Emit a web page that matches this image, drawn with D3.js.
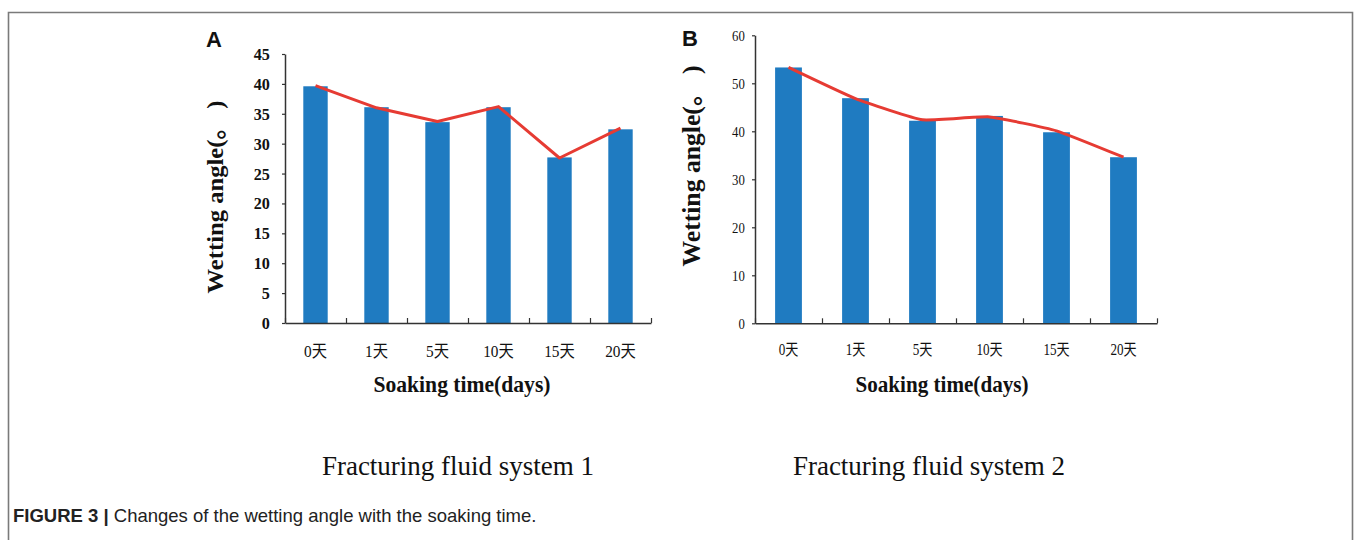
<!DOCTYPE html>
<html>
<head>
<meta charset="utf-8">
<script src="https://cdn.jsdelivr.net/npm/d3@7"></script>
<style>
  html, body { margin: 0; padding: 0; background: #fff; }
  svg { display: block; }
</style>
</head>
<body>
<svg id="fig" width="1354" height="540"></svg>
<script>
// Soaking time categories (shared by both panels)
const categories = ["0天", "1天", "5天", "10天", "15天", "20天"];

// Fracturing fluid system 1: wetting angle (°)
const barsSystem1 = [39.6, 36.1, 33.6, 36.1, 27.7, 32.4];
const lineSystem1 = [39.7, 36.0, 33.7, 36.2, 27.6, 32.6];
const ticksSystem1 = [0, 5, 10, 15, 20, 25, 30, 35, 40, 45];

// Fracturing fluid system 2: wetting angle (°)
const barsSystem2 = [53.3, 46.9, 42.2, 43.2, 39.8, 34.6];
const lineSystem2 = [53.3, 46.8, 42.4, 43.0, 40.1, 34.6];
const ticksSystem2 = [0, 10, 20, 30, 40, 50, 60];

const panelLetters = ["A", "B"];
const panelTitles = ["Fracturing fluid system 1", "Fracturing fluid system 2"];
const yTitle = "Wetting angle(。 )";
const xTitle = "Soaking time(days)";
const captionBold = "FIGURE 3 |";
const captionText = " Changes of the wetting angle with the soaking time.";

const BAR = "#1f7bc1";
const LINE = "#e63b33";
const AXIS = "#333";
const SERIF = "'Liberation Serif', 'Times New Roman', 'Noto Sans CJK SC', serif";
const SANS = "'Liberation Sans', Arial, Helvetica, sans-serif";

const svg = d3.select("#fig");

// outer frame (open at the bottom)
svg.append("path")
  .attr("d", "M8.5,545 V12.5 H1352.5 V545")
  .attr("fill", "none").attr("stroke", "#7a7a7a").attr("stroke-width", 1.6);

function drawPanel(p) {
  const g = svg.append("g");
  const y = d3.scaleLinear().domain([0, p.yMax]).range([p.bottom, p.top]);
  const x = d3.scaleBand().domain(categories).range([p.left, p.right])
    .paddingInner(0.6).paddingOuter(0.3);
  const edge = d3.scaleLinear().domain([0, categories.length]).range([p.left, p.right]);

  // bars
  g.append("g").selectAll("rect").data(p.bars).join("rect")
    .attr("x", (d, i) => x(categories[i]))
    .attr("y", d => y(d))
    .attr("width", x.bandwidth())
    .attr("height", d => y(0) - y(d))
    .attr("fill", BAR);

  // y axis
  const ya = g.append("g").attr("transform", `translate(${p.left},0)`)
    .call(d3.axisLeft(y).tickValues(p.ticks).tickSize(3).tickSizeOuter(0).tickPadding(p.yPad));
  ya.select(".domain").attr("stroke", AXIS).attr("stroke-width", 1.5);
  ya.selectAll(".tick line").attr("stroke", AXIS).attr("stroke-width", 1.2);
  ya.selectAll("text").attr("font-family", SERIF).attr("font-size", p.yFont)
    .attr("font-weight", p.yWeight).attr("fill", "#111")
    .attr("transform", `scale(${p.yScaleX},1)`);

  // x axis line with inward ticks at category boundaries
  const xa = g.append("g").attr("transform", `translate(0,${p.bottom})`)
    .call(d3.axisBottom(edge).tickValues(d3.range(categories.length + 1))
      .tickSize(-5).tickSizeOuter(0).tickFormat(""));
  xa.select(".domain").attr("stroke", AXIS).attr("stroke-width", 1.5);
  xa.selectAll(".tick line").attr("stroke", AXIS).attr("stroke-width", 1.2);

  // category labels
  const ca = g.append("g").attr("transform", `translate(0,${p.bottom})`)
    .call(d3.axisBottom(x).tickSize(0).tickPadding(p.catPad));
  ca.select(".domain").remove();
  ca.selectAll("text").attr("font-family", SERIF).attr("font-size", p.catFont)
    .attr("fill", "#111").attr("transform", `scale(${p.catScaleX},1)`);

  // trend line through the category centres
  const line = d3.line()
    .x((d, i) => x(categories[i]) + x.bandwidth() / 2)
    .y(d => y(d))
    .curve(p.curve);
  g.append("path").datum(p.line)
    .attr("d", line).attr("fill", "none")
    .attr("stroke", LINE).attr("stroke-width", 3).attr("stroke-linejoin", "round");

  // y title
  g.append("text")
    .attr("transform", `translate(${p.yTitleX},${p.yTitleY}) rotate(-90)`)
    .attr("text-anchor", "middle")
    .attr("font-family", SERIF).attr("font-weight", "bold")
    .attr("font-size", p.yTitleFont)
    .attr("textLength", p.yTitleLen).attr("lengthAdjust", "spacingAndGlyphs")
    .attr("fill", "#111")
    .text(yTitle);

  // x title
  g.append("text")
    .attr("x", p.xTitleX).attr("y", p.xTitleY)
    .attr("text-anchor", "middle")
    .attr("font-family", SERIF).attr("font-weight", "bold")
    .attr("font-size", 23)
    .attr("textLength", p.xTitleLen).attr("lengthAdjust", "spacingAndGlyphs")
    .attr("fill", "#111")
    .text(xTitle);

  // panel letter
  g.append("text")
    .attr("x", p.letterX).attr("y", p.letterY)
    .attr("font-family", SANS).attr("font-weight", "bold").attr("font-size", 22)
    .attr("fill", "#111")
    .text(p.letter);

  // panel subtitle
  g.append("text")
    .attr("x", p.subX).attr("y", 475)
    .attr("text-anchor", "middle")
    .attr("font-family", SERIF).attr("font-size", 27)
    .attr("fill", "#111")
    .text(p.title);
}

drawPanel({
  left: 285, right: 651, top: 54, bottom: 323, yMax: 45,
  ticks: ticksSystem1, bars: barsSystem1, line: lineSystem1,
  yPad: 13, yFont: 17, yWeight: "bold", yScaleX: 0.95,
  catPad: 22, catFont: 17, catScaleX: 0.9,
  curve: d3.curveLinear,
  yTitleX: 223, yTitleY: 197, yTitleFont: 24, yTitleLen: 193,
  xTitleX: 462, xTitleY: 392, xTitleLen: 177,
  letter: panelLetters[0], letterX: 206, letterY: 47,
  title: panelTitles[0], subX: 458
});

drawPanel({
  left: 755, right: 1157, top: 35.3, bottom: 323.3, yMax: 60,
  ticks: ticksSystem2, bars: barsSystem2, line: lineSystem2,
  yPad: 9, yFont: 15, yWeight: "normal", yScaleX: 0.85,
  catPad: 20, catFont: 16, catScaleX: 0.82,
  curve: d3.curveCardinal.tension(0.6),
  yTitleX: 700, yTitleY: 166, yTitleFont: 25, yTitleLen: 201,
  xTitleX: 942, xTitleY: 392, xTitleLen: 173,
  letter: panelLetters[1], letterX: 682, letterY: 46,
  title: panelTitles[1], subX: 929
});

// figure caption
const cap = svg.append("text").attr("x", 13).attr("y", 522)
  .attr("font-family", SANS).attr("font-size", 18.5).attr("fill", "#222");
cap.append("tspan").attr("font-weight", "bold").text(captionBold);
cap.append("tspan").text(captionText);
</script>
</body>
</html>
